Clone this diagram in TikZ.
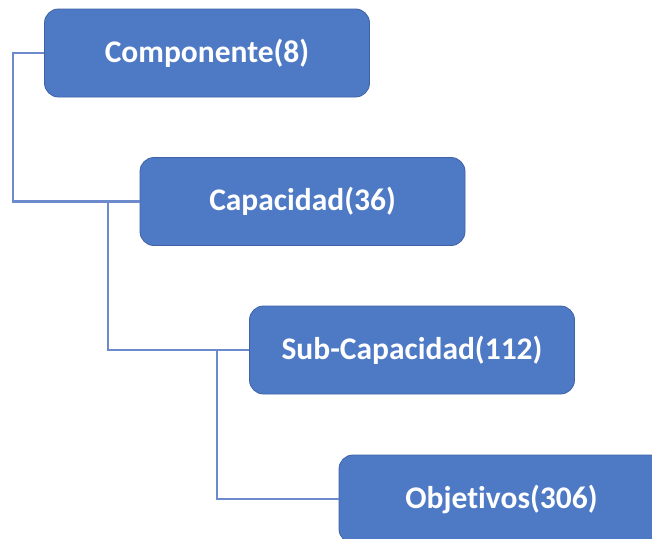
\documentclass[tikz,border=0pt]{standalone}
\usepackage{fontspec}
\setmainfont{Carlito}[Ligatures=NoCommon]
\usetikzlibrary{calc}
\definecolor{boxfill}{RGB}{78,122,197}
\definecolor{boxline}{RGB}{62,98,165}
\definecolor{linkcol}{RGB}{108,138,204}
\tikzset{
  level/.style={draw=boxline, line width=0.8pt, fill=boxfill, rounded corners=14pt,
    minimum width=325pt, minimum height=88pt, inner sep=0pt,
    text=white, font=\fontsize{31.5}{34}\selectfont\bfseries},
  link/.style={draw=linkcol, line width=2.2pt}
}
\begin{document}
\begin{tikzpicture}[x=1pt,y=-1pt]
\useasboundingbox (0,0) rectangle (652,538);
\clip (0,0) rectangle (652,538);
\fill[white] (0,0) rectangle (652,538);

\node[level] (c1) at (207,53)   {Componente(8)};
\node[level] (c2) at (302.5,201.5) {Capacidad(36)};
\node[level] (c3) at (412,350)  {Sub-Capacidad(112)};
\node[level] (c4) at (501.5,499) {Objetivos(306)};

% elbow connectors between the levels
\coordinate (a1) at ($(c1.west)+(-31,0)$);
\coordinate (j2) at ($(c2.west)+(-32,0)$);
\coordinate (j3) at ($(c3.west)+(-32,0)$);
\draw[link] (c1.west) -- (a1) |- (c2.west);
\draw[link] (j2) |- (c3.west);
\draw[link] (j3) |- (c4.west);
\end{tikzpicture}
\end{document}
